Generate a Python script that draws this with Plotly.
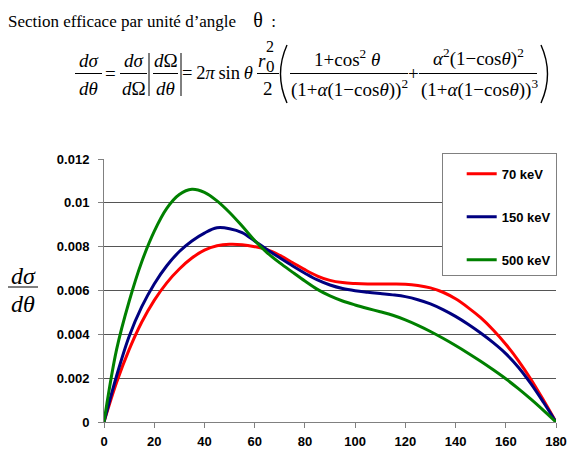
import plotly.graph_objects as go

# ---------------- data ----------------
theta = [0, 5, 10, 15, 20, 25, 30, 35, 40, 45, 50, 55, 60, 65, 70, 75, 80, 85, 90,
         95, 100, 105, 110, 115, 120, 125, 130, 135, 140, 145, 150, 155, 160, 165,
         170, 175, 180]

kev70 = [0, 0.00180, 0.00330, 0.00455, 0.00555, 0.00635, 0.00698, 0.00748, 0.00784,
         0.00804, 0.00811, 0.00809, 0.00800, 0.00786, 0.00760, 0.00728, 0.00695,
         0.00666, 0.00646, 0.00636, 0.00632, 0.00630, 0.00630, 0.00630, 0.00629,
         0.00623, 0.00612, 0.00592, 0.00562, 0.00522, 0.00476, 0.00420, 0.00355,
         0.00280, 0.00195, 0.00100, 0.0]

kev150 = [0, 0.00210, 0.00390, 0.00525, 0.00630, 0.00713, 0.00778, 0.00826, 0.00862,
          0.00886, 0.00882, 0.00864, 0.00826, 0.00786, 0.00749, 0.00713, 0.00679,
          0.00648, 0.00625, 0.00609, 0.00599, 0.00592, 0.00586, 0.00580, 0.00572,
          0.00558, 0.00539, 0.00513, 0.00482, 0.00446, 0.00406, 0.00362, 0.00312,
          0.00250, 0.00175, 0.00090, 0.0]

kev500 = [0, 0.00330, 0.00550, 0.00730, 0.00870, 0.00975, 0.01038, 0.01062, 0.01048,
          0.01009, 0.00956, 0.00894, 0.00828, 0.00772, 0.00726, 0.00684, 0.00643,
          0.00605, 0.00575, 0.00552, 0.00534, 0.00518, 0.00503, 0.00487, 0.00466,
          0.00441, 0.00413, 0.00382, 0.00349, 0.00314, 0.00277, 0.00238, 0.00197,
          0.00152, 0.00104, 0.00053, 0.0]

series_names = ["70 keV", "150 keV", "500 keV"]
series_colors = ["#FF0000", "#000080", "#008000"]

x_ticks = [0, 20, 40, 60, 80, 100, 120, 140, 160, 180]
y_ticks = [0, 0.002, 0.004, 0.006, 0.008, 0.01, 0.012]
y_ticktext = ["0", "0.002", "0.004", "0.006", "0.008", "0.01", "0.012"]
y_grid = [0.002, 0.004, 0.006, 0.008, 0.01]

# ---------------- layout geometry ----------------
W, H = 580, 450
L, R, T, B = 104, 24, 159, 28
PW, PH = W - L - R, H - T - B


def X(px):
    return (px - L) / PW


def Y(py):
    return (H - B - py) / PH


SERIF = "Liberation Serif"
SANS = "Liberation Sans"

fig = go.Figure()
for name, col, vals in zip(series_names, series_colors, [kev70, kev150, kev500]):
    fig.add_trace(go.Scatter(
        x=theta, y=vals, name=name, mode="lines",
        line=dict(color=col, width=3, shape="spline", smoothing=1),
        legendgroup=name,
    ))

annotations = []
shapes = []


def txt(s, px, py, size=19, xanchor="center", family=SERIF):
    annotations.append(dict(
        x=X(px), y=Y(py), xref="paper", yref="paper", text=s, showarrow=False,
        font=dict(family=family, size=size, color="black"),
        xanchor=xanchor, yanchor="middle", borderpad=0,
    ))


def hline(x0, x1, py, w=1):
    shapes.append(dict(type="line", xref="paper", yref="paper",
                       x0=X(x0), x1=X(x1), y0=Y(py), y1=Y(py),
                       line=dict(color="black", width=w)))


def vline(px, y0, y1, w=1):
    shapes.append(dict(type="line", xref="paper", yref="paper",
                       x0=X(px), x1=X(px), y0=Y(y0), y1=Y(y1),
                       line=dict(color="black", width=w)))


def paren(px, y0, y1, bulge):
    ym = (y0 + y1) / 2
    path = "M {:.5f},{:.5f} Q {:.5f},{:.5f} {:.5f},{:.5f}".format(
        X(px), Y(y0), X(px + bulge), Y(ym), X(px), Y(y1))
    shapes.append(dict(type="path", xref="paper", yref="paper", path=path,
                       line=dict(color="black", width=1.4)))


# title line
txt("Section efficace par unité d’angle\u2003<span style='font-size:20px'>θ</span>\u2002:",
    7, 20, size=17, xanchor="left")

# formula
ny, dy, by = 61, 88, 73.5
txt("<i>dσ</i>", 88.5, ny); txt("<i>dθ</i>", 88.5, dy); hline(75, 102, by)
txt("=", 110, by)
txt("<i>dσ</i>", 133.5, ny); txt("<i>d</i>Ω", 133.5, dy); hline(120, 147, by)
vline(149, 53, 96)
txt("<i>d</i>Ω", 165.5, ny); txt("<i>dθ</i>", 165.5, dy); hline(153, 178, by)
vline(181, 53, 96)
txt("=\u20092<i>π</i>\u2009sin\u2009<i>θ</i>", 254, by, size=18.5, xanchor="right")
txt("<i>r</i>", 262, 61)
txt("0", 270, 67, size=17)
txt("2", 270, 47, size=16)
hline(257, 279, by)
txt("2", 268, dy)
paren(287, 45, 103, -13)
txt("1+cos<sup>2</sup> <i>θ</i>", 347, 58)
hline(290, 408, by)
txt("(1+<i>α</i>(1−cos<i>θ</i>))<sup>2</sup>", 349, dy)
txt("+", 413, by)
txt("<i>α</i><sup>2</sup>(1−cos<i>θ</i>)<sup>2</sup>", 478, 58)
hline(419, 537, by)
txt("(1+<i>α</i>(1−cos<i>θ</i>))<sup>3</sup>", 479, dy)
paren(541, 45, 103, 13)

# y-axis title as a fraction
txt("<i>dσ</i>", 23, 276, size=24)
hline(8, 38, 287)
txt("<i>dθ</i>", 23, 304, size=24)

fig.update_layout(
    width=W, height=H,
    margin=dict(l=L, r=R, t=T, b=B, pad=0, autoexpand=False),
    paper_bgcolor="white", plot_bgcolor="white",
    showlegend=True,
    legend=dict(
        x=X(441.7), y=Y(152.7), xanchor="left", yanchor="top",
        xref="paper", yref="paper",
        bordercolor="#808080", borderwidth=1, bgcolor="white",
        font=dict(family=SANS, size=13, color="black", weight="bold"),
        traceorder="grouped", tracegroupgap=23, indentation=19,
        entrywidth=74,
        title=dict(text=" ", font=dict(size=4)),
    ),
    xaxis=dict(
        range=[0, 180], tickvals=x_ticks, showgrid=False, zeroline=False,
        showline=True, linecolor="#808080", linewidth=1,
        ticks="outside", ticklen=5, tickcolor="#808080",
        ticklabelstandoff=2, automargin=False,
        tickfont=dict(family=SANS, size=13, color="black", weight="bold"),
    ),
    yaxis=dict(
        range=[0, 0.012], tickvals=y_ticks, ticktext=y_ticktext,
        showgrid=False, zeroline=False,
        showline=True, linecolor="#808080", linewidth=1,
        ticks="outside", ticklen=5, tickcolor="#808080",
        ticklabelstandoff=6, automargin=False,
        tickfont=dict(family=SANS, size=13, color="black", weight="bold"),
        minor=dict(tickvals=y_grid, showgrid=True, gridcolor="#555555",
                   gridwidth=1, ticks=""),
    ),
    annotations=annotations,
    shapes=shapes,
)

fig.write_html("out.html")
